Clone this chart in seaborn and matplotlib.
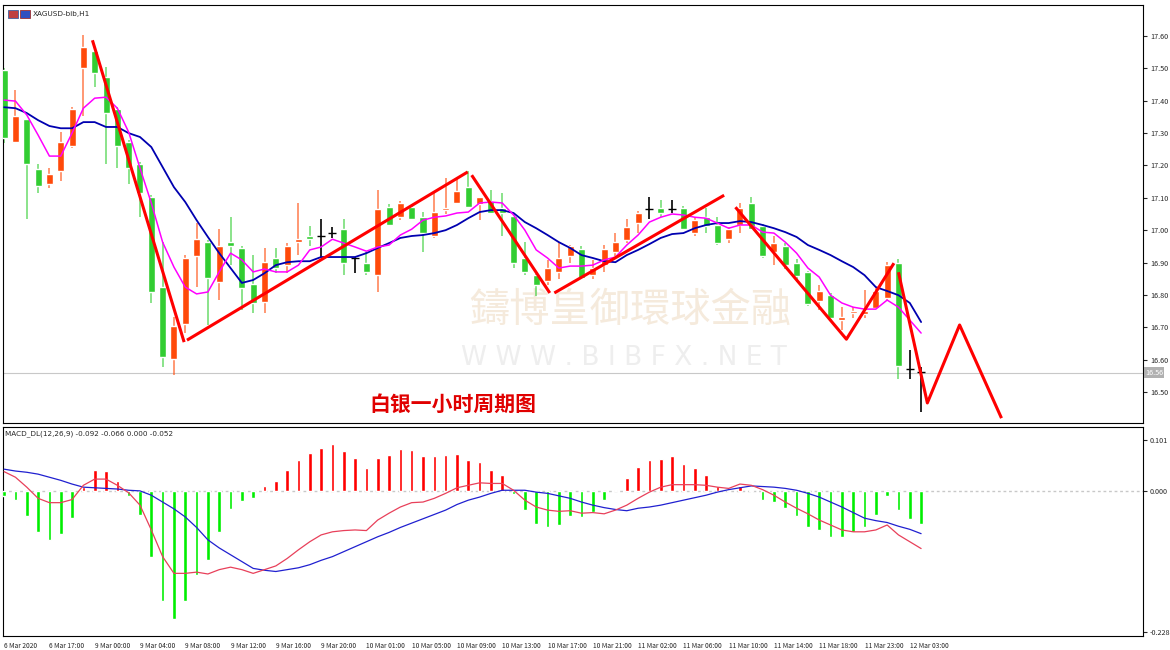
import numpy as np
import pandas as pd
import seaborn as sns
import matplotlib
matplotlib.use("Agg")
import matplotlib.pyplot as plt

# ---- candle data (XAGUSD H1) ----
opens = [17.495, 17.273, 17.343, 17.19, 17.143, 17.183, 17.261, 17.502, 17.554, 17.474,
         17.374, 17.273, 17.204, 17.103, 16.825, 16.601, 16.71, 16.921, 16.964, 16.841,
         16.964, 16.944, 16.833, 16.779, 16.913, 16.892, 16.963, 16.982, 16.982, 16.992,
         17.003, 16.913, 16.90, 16.862, 17.073, 17.042, 17.073, 17.04, 16.982, 17.062,
         17.083, 17.132, 17.081, 17.091, 17.07, 17.044, 16.913, 16.862, 16.843, 16.87,
         16.921, 16.942, 16.862, 16.892, 16.932, 16.97, 17.021, 17.065, 17.07, 17.065,
         17.07, 16.991, 17.042, 17.016, 16.972, 17.016, 17.083, 17.013, 16.931, 16.951,
         16.90, 16.87, 16.781, 16.80, 16.723, 16.743, 16.741, 16.76, 16.791, 16.90,
         16.571, 16.561]
highs = [17.50, 17.433, 17.343, 17.205, 17.193, 17.304, 17.38, 17.603, 17.56, 17.503,
         17.38, 17.28, 17.21, 17.11, 16.964, 16.733, 16.923, 17.021, 16.97, 17.003,
         17.042, 16.95, 16.923, 16.944, 16.944, 16.96, 17.085, 17.013, 17.035, 17.01,
         17.034, 16.918, 16.933, 17.124, 17.08, 17.091, 17.08, 17.055, 17.114, 17.16,
         17.16, 17.184, 17.102, 17.124, 17.116, 17.05, 16.962, 16.865, 16.908, 16.962,
         16.955, 16.95, 16.908, 16.955, 16.99, 17.035, 17.06, 17.102, 17.093, 17.093,
         17.075, 17.04, 17.07, 17.042, 17.01, 17.083, 17.103, 17.02, 16.982, 16.96,
         16.91, 16.875, 16.831, 16.805, 16.764, 16.764, 16.815, 16.82, 16.903, 16.91,
         16.63, 16.578]
lows = [17.27, 17.27, 17.035, 17.115, 17.131, 17.152, 17.255, 17.354, 17.443, 17.204,
        17.193, 17.142, 17.042, 16.774, 16.578, 16.553, 16.682, 16.825, 16.707, 16.784,
        16.892, 16.753, 16.743, 16.743, 16.868, 16.868, 16.923, 16.95, 16.917, 16.975,
        16.862, 16.869, 16.862, 16.81, 17.013, 17.03, 17.03, 16.933, 16.975, 17.05,
        17.08, 17.07, 17.031, 17.05, 16.982, 16.882, 16.86, 16.795, 16.83, 16.85,
        16.90, 16.851, 16.85, 16.87, 16.92, 16.96, 16.991, 17.034, 17.04, 17.052,
        17.0, 16.982, 16.99, 16.955, 16.96, 16.99, 17.0, 16.913, 16.892, 16.88,
        16.84, 16.765, 16.753, 16.72, 16.692, 16.73, 16.73, 16.755, 16.78, 16.539,
        16.54, 16.439]
closes = [17.285, 17.354, 17.204, 17.135, 17.174, 17.273, 17.374, 17.565, 17.485, 17.363,
          17.261, 17.193, 17.114, 16.81, 16.609, 16.704, 16.913, 16.973, 16.851, 16.952,
          16.951, 16.822, 16.774, 16.903, 16.882, 16.952, 16.973, 16.973, 16.982, 16.992,
          16.90, 16.913, 16.87, 17.065, 17.016, 17.083, 17.034, 16.992, 17.055, 17.07,
          17.122, 17.073, 17.102, 17.052, 17.052, 16.90, 16.87, 16.831, 16.882, 16.913,
          16.952, 16.851, 16.882, 16.942, 16.962, 17.011, 17.054, 17.065, 17.052, 17.065,
          17.003, 17.031, 17.013, 16.961, 17.003, 17.07, 17.003, 16.92, 16.961, 16.892,
          16.859, 16.771, 16.812, 16.73, 16.733, 16.75, 16.751, 16.812, 16.892, 16.581,
          16.571, 16.561]

ma_fast = [17.402, 17.399, 17.356, 17.294, 17.229, 17.229, 17.300, 17.377, 17.408, 17.411,
           17.377, 17.303, 17.192, 17.084, 16.963, 16.886, 16.824, 16.803, 16.809, 16.871,
           16.929, 16.908, 16.871, 16.880, 16.871, 16.871, 16.892, 16.939, 16.948, 16.972,
           16.960, 16.948, 16.935, 16.948, 16.954, 16.985, 17.003, 17.031, 17.040, 17.044,
           17.053, 17.056, 17.084, 17.087, 17.084, 17.047, 17.000, 16.939, 16.914, 16.883,
           16.889, 16.889, 16.892, 16.908, 16.917, 16.954, 16.985, 17.025, 17.040, 17.050,
           17.047, 17.040, 17.037, 17.022, 17.006, 17.016, 17.016, 16.994, 16.991, 16.963,
           16.929, 16.883, 16.855, 16.799, 16.775, 16.762, 16.756, 16.756, 16.784, 16.762,
           16.722, 16.682]
ma_slow = [17.380, 17.377, 17.362, 17.340, 17.322, 17.315, 17.315, 17.334, 17.334, 17.319,
           17.319, 17.300, 17.288, 17.257, 17.195, 17.133, 17.087, 17.031, 16.979, 16.929,
           16.883, 16.837, 16.846, 16.867, 16.892, 16.901, 16.904, 16.904, 16.917, 16.917,
           16.917, 16.917, 16.929, 16.945, 16.960, 16.976, 16.982, 16.985, 16.991, 17.000,
           17.016, 17.037, 17.056, 17.062, 17.062, 17.053, 17.025, 17.006, 16.985, 16.963,
           16.945, 16.923, 16.914, 16.904, 16.901, 16.923, 16.939, 16.957, 16.976, 16.988,
           16.991, 17.006, 17.016, 17.022, 17.022, 17.028, 17.025, 17.016, 17.006, 16.994,
           16.979, 16.954, 16.939, 16.923, 16.904, 16.886, 16.861, 16.824, 16.812, 16.799,
           16.775, 16.716]

# ---- MACD (values in 1/1000) ----
macd_hist = [-8.5, -15, -40, -67, -79, -69, -43, 6, 33, 32,
             16, -8, -39, -106, -178, -206, -178, -135, -111, -67,
             -29, -16, -11, 8, 16, 34, 50, 61, 69, 75,
             64, 53, 37, 53, 58, 67, 66, 56, 56, 58,
             59, 50, 47, 34, 26, -5, -31, -53, -59, -55,
             -40, -42, -34, -15, 1, 21, 39, 50, 51, 56,
             43, 37, 26, 8, 2, 8, 2, -14, -18, -28,
             -40, -58, -63, -74, -75, -67, -58, -39, -9, -31,
             -45, -53]
macd_main = [31, 22, 6, -12, -19, -19, -14, 9, 19, 19,
             9, -3, -23, -63, -106, -133, -133, -131, -134, -127,
             -123, -127, -133, -127, -121, -109, -95, -82, -71, -66,
             -64, -63, -64, -47, -36, -26, -19, -18, -12, -4,
             5, 9, 13, 12, 12, 1, -15, -26, -31, -33,
             -32, -36, -35, -37, -31, -23, -12, -2, 6, 10,
             10, 10, 9, 6, 4, 11, 9, 2, -7, -18,
             -28, -37, -47, -55, -63, -66, -66, -63, -55, -71,
             -82, -93]
macd_signal = [35, 32, 30, 27, 22, 17, 11, 6, 5, 4,
               3, 1, 0, -7, -18, -29, -42, -59, -79, -92,
               -103, -114, -125, -128, -130, -127, -124, -119, -112, -106,
               -98, -90, -82, -74, -67, -59, -52, -45, -38, -31,
               -22, -15, -10, -4, 1, 1, 1, -2, -4, -8,
               -12, -18, -23, -27, -30, -32, -28, -26, -23, -19,
               -15, -11, -7, -2, 2, 5, 8, 7, 6, 4,
               1, -4, -10, -18, -26, -35, -44, -48, -51, -57,
               -62, -69]

tick_labels = ["6 Mar 2020", "6 Mar 17:00", "9 Mar 00:00", "9 Mar 04:00", "9 Mar 08:00",
               "9 Mar 12:00", "9 Mar 16:00", "9 Mar 20:00", "10 Mar 01:00", "10 Mar 05:00",
               "10 Mar 09:00", "10 Mar 13:00", "10 Mar 17:00", "10 Mar 21:00", "11 Mar 02:00",
               "11 Mar 06:00", "11 Mar 10:00", "11 Mar 14:00", "11 Mar 18:00", "11 Mar 23:00",
               "12 Mar 03:00"]

# hand drawn trend lines (bar index, price)
trend_x = [[7.8, 15.9], [16.15, 40.95], [41.3, 48.2], [48.6, 63.6],
           [64.6, 74.4, 78.6], [79.0, 81.55, 84.4, 88.1]]
trend_y = [[17.587, 16.654], [16.660, 17.180], [17.170, 16.806], [16.806, 17.108],
           [17.071, 16.663, 16.898], [16.870, 16.466, 16.707, 16.419]]

doji = [28, 29, 31, 57, 59, 80, 81]
last_price = 16.56

df = pd.DataFrame({"bar": np.arange(len(closes)), "open": opens, "high": highs,
                   "low": lows, "close": closes, "ma_fast": ma_fast, "ma_slow": ma_slow,
                   "macd_hist": np.array(macd_hist) / 1000, "main": np.array(macd_main) / 1000,
                   "signal": np.array(macd_signal) / 1000})

sns.set_style("white")
plt.rcParams['font.family'] = ['Noto Sans CJK SC', 'DejaVu Sans']

UP, DOWN = "#ff4a0a", "#32cd32"
fig = plt.figure(figsize=(11.7, 6.5), dpi=100)
ax = fig.add_axes([3 / 1170, 1 - 423 / 650, 1140 / 1170, 418 / 650])
ax2 = fig.add_axes([3 / 1170, 1 - 636 / 650, 1140 / 1170, 209 / 650])

for a in (ax, ax2):
    for s in a.spines.values():
        s.set_color("black")
        s.set_linewidth(0.8)
    a.yaxis.tick_right()
    a.tick_params(axis="y", labelsize=5.2, length=3, direction="out", pad=2)

# candles
colors = []
for i, r in df.iterrows():
    if i in doji:
        colors.append("black")
    elif r["close"] >= r["open"]:
        colors.append(UP)
    else:
        colors.append(DOWN)
df["color"] = colors
wick_col = ["black" if c == "black" else (c + "aa") for c in colors]
ax.vlines(df["bar"], df["low"], df["high"], colors=wick_col, linewidth=1.2, zorder=2)
body_h = (df["close"] - df["open"]).abs().clip(lower=0.002)
body_b = df[["open", "close"]].min(axis=1)
mask = df["color"] != "black"
ax.bar(df["bar"][mask], body_h[mask], bottom=body_b[mask], width=0.62,
       color=df["color"][mask], zorder=3)
ax.hlines(df["close"][~mask], df["bar"][~mask] - 0.35, df["bar"][~mask] + 0.35,
          colors="black", linewidth=1, zorder=3)

sns.lineplot(data=df, x="bar", y="ma_slow", ax=ax, color="#0000b0", linewidth=1.3, zorder=4)
sns.lineplot(data=df, x="bar", y="ma_fast", ax=ax, color="#ff00ff", linewidth=1.1, zorder=4)

for tx, ty in zip(trend_x, trend_y):
    ax.plot(tx, ty, color="#ff0000", linewidth=2.2, zorder=5, solid_capstyle="butt")

ax.axhline(last_price, color="#c8c8c8", linewidth=0.8, zorder=1)

ax.set_xlim(-0.1, 100.6)
ax.set_ylim(16.404, 17.696)
yt = np.round(np.arange(16.5, 17.61, 0.1), 2)
ax.set_yticks(yt)
ax.set_yticklabels([f"{v:.2f}" for v in yt])
ax.set_xticks([])
ax.set_xlabel("")
ax.set_ylabel("")
ax.text(1.002, (last_price - 16.404) / (17.696 - 16.404), "16.56", transform=ax.transAxes,
        fontsize=5.2, va="center", ha="left", color="white",
        bbox=dict(boxstyle="square,pad=0.15", fc="#b0b0b0", ec="none"))

# watermark
ax.text(0.55, 0.27, "鑄博皇御環球金融", transform=ax.transAxes, fontsize=29,
        color="#f5eadc", ha="center", va="center", zorder=0)
ax.text(0.545, 0.155, "W W W . B I B F X . N E T", transform=ax.transAxes, fontsize=19,
        color="#eeeeee", ha="center", va="center", zorder=0, family="DejaVu Sans")
ax.text(0.395, 0.045, "白银一小时周期图", transform=ax.transAxes, fontsize=15,
        color="#e00000", ha="center", va="center", fontweight="bold", zorder=6)
ax.text(0.026, 0.985, "XAGUSD-bib,H1", transform=ax.transAxes, fontsize=5.2,
        ha="left", va="top", family="DejaVu Sans")
ax.add_patch(plt.Rectangle((0.004, 0.968), 0.009, 0.02, transform=ax.transAxes,
                           fc="#c04040", ec="#4060a0", lw=0.6))
ax.add_patch(plt.Rectangle((0.015, 0.968), 0.009, 0.02, transform=ax.transAxes,
                           fc="#3050c0", ec="#a03030", lw=0.6))

# MACD pane
hist_col = np.where(df["macd_hist"] >= 0, "#ff0000", "#00ee00")
ax2.bar(df["bar"], df["macd_hist"], width=0.32, color=hist_col, zorder=3)
sns.lineplot(data=df, x="bar", y="signal", ax=ax2, color="#2020d0", linewidth=0.9, zorder=4)
sns.lineplot(data=df, x="bar", y="main", ax=ax2, color="#e8405a", linewidth=0.9, zorder=4)
ax2.axhline(0, color="#c8c8c8", linewidth=1, linestyle=(0, (2, 2)), zorder=1)
ax2.set_xlim(-0.1, 100.6)
ax2.set_ylim(-0.234, 0.103)
ax2.set_yticks([0.082, 0.0, -0.228])
ax2.set_yticklabels(["0.101", "0.000", "-0.228"])
ax2.set_xticks(np.arange(0, 4 * len(tick_labels), 4))
ax2.set_xticklabels(tick_labels, fontsize=4.8, ha="left")
ax2.tick_params(axis="x", length=3, pad=1)
ax2.set_xlabel("")
ax2.set_ylabel("")
ax2.text(0.002, 0.985, "MACD_DL(12,26,9) -0.092 -0.066 0.000 -0.052", transform=ax2.transAxes,
         fontsize=5.2, ha="left", va="top", family="DejaVu Sans")

fig.savefig("out.png", dpi=100)
